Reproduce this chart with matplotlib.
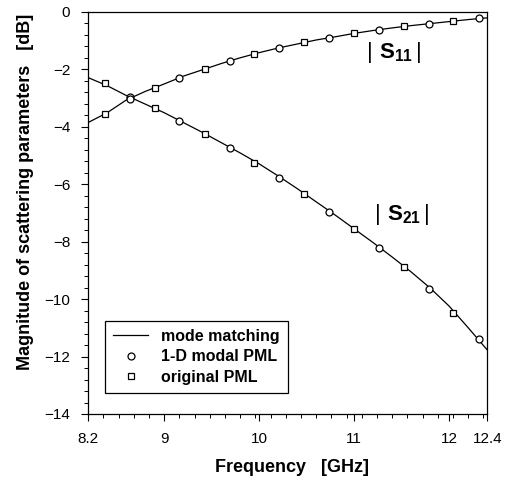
import matplotlib
matplotlib.use("Agg")
import matplotlib.pyplot as plt
from matplotlib.ticker import AutoMinorLocator

plt.rcParams['font.family'] = ['Liberation Sans', 'DejaVu Sans']
plt.rcParams['mathtext.fontset'] = 'custom'
plt.rcParams['mathtext.rm'] = 'Liberation Sans'
plt.rcParams['mathtext.bf'] = 'Liberation Sans:bold'

# mode matching (solid lines)
f_line = [8.2, 8.4, 8.6, 8.8, 9.0, 9.2, 9.4, 9.6, 9.8, 10.0, 10.2,
          10.4, 10.6, 10.8, 11.0, 11.2, 11.4, 11.6, 11.8, 12.0, 12.2, 12.4]
s11_line = [-3.86, -3.52, -3.08, -2.78, -2.52, -2.25, -2.03, -1.81, -1.61, -1.43, -1.27,
            -1.13, -0.99, -0.88, -0.76, -0.66, -0.57, -0.49, -0.42, -0.35, -0.28, -0.22]
s21_line = [-2.30, -2.58, -2.92, -3.22, -3.52, -3.86, -4.20, -4.56, -4.92, -5.30, -5.72,
            -6.16, -6.62, -7.08, -7.56, -8.04, -8.54, -9.06, -9.62, -10.25, -11.0, -11.77]

# simulated points (squares = original PML, circles = 1-D modal PML, alternating)
f_sq = [8.38, 8.90, 9.43, 9.95, 10.47, 11.00, 11.52, 12.04]
s11_sq = [-3.57, -2.66, -2.00, -1.47, -1.07, -0.75, -0.52, -0.33]
s21_sq = [-2.49, -3.36, -4.26, -5.27, -6.35, -7.56, -8.89, -10.49]

f_ci = [8.64, 9.16, 9.69, 10.21, 10.73, 11.26, 11.79, 12.31]
s11_ci = [-2.96, -2.30, -1.71, -1.27, -0.93, -0.64, -0.43, -0.24]
s21_ci = [-3.05, -3.80, -4.75, -5.79, -6.96, -8.21, -9.66, -11.39]

xticks = [8.2, 9, 10, 11, 12, 12.4]
xticklabels = ['8.2', '9', '10', '11', '12', '12.4']
yticks = [0, -2, -4, -6, -8, -10, -12, -14]

fig = plt.figure(figsize=(5.25, 4.8), dpi=100)
ax = fig.add_axes([0.168, 0.1375, 0.76, 0.8385])

ax.plot(f_line, s11_line, color='black', lw=0.9, label='mode matching')
ax.plot(f_line, s21_line, color='black', lw=0.9)
ax.plot(f_ci, s11_ci, 'o', mfc='white', mec='black', ms=5, mew=0.9, label='1-D modal PML')
ax.plot(f_ci, s21_ci, 'o', mfc='white', mec='black', ms=5, mew=0.9)
ax.plot(f_sq, s11_sq, 's', mfc='white', mec='black', ms=4.5, mew=0.9, label='original PML')
ax.plot(f_sq, s21_sq, 's', mfc='white', mec='black', ms=4.5, mew=0.9)

ax.set_xlim(8.2, 12.4)
ax.set_ylim(-14, 0)
ax.set_xticks(xticks)
ax.set_xticklabels(xticklabels)
ax.set_yticks(yticks)
ax.xaxis.set_minor_locator(AutoMinorLocator(5))
ax.yaxis.set_minor_locator(AutoMinorLocator(5))
ax.tick_params(which='major', direction='out', length=5, width=0.8, labelsize=11, pad=8)
ax.tick_params(which='minor', direction='out', length=3, width=0.7)
for s in ax.spines.values():
    s.set_linewidth(0.9)

ax.set_xlabel('Frequency   [GHz]', fontsize=13, fontweight='bold')
ax.xaxis.set_label_coords(0.51, -0.112)
ax.set_ylabel('Magnitude of scattering parameters   [dB]', fontsize=13, fontweight='bold')
ax.yaxis.set_label_coords(-0.135, 0.552)

ax.text(11.42, -1.44, r'$|\ \mathbf{S}_{\mathbf{11}}\,|$', fontsize=16, ha='center', va='center')
ax.text(11.50, -7.07, r'$|\ \mathbf{S}_{\mathbf{21}}\,|$', fontsize=16, ha='center', va='center')

leg = ax.legend(loc='lower left', bbox_to_anchor=(0.043, 0.052), borderaxespad=0,
                fancybox=False, edgecolor='black', framealpha=1,
                prop={'weight': 'bold', 'size': 11.5},
                handlelength=2.2, borderpad=0.5, labelspacing=0.35, handletextpad=0.8)
leg.get_frame().set_linewidth(0.9)

fig.savefig('out.png', dpi=100)
